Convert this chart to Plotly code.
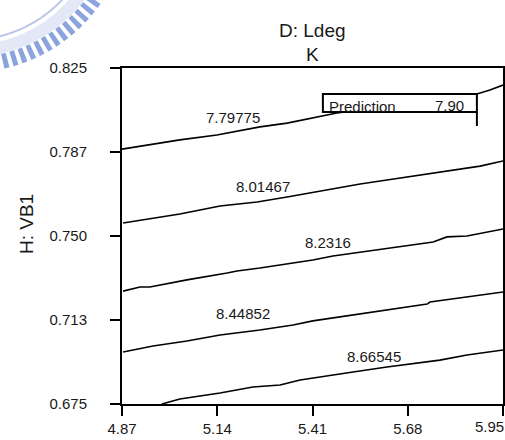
import numpy as np
import plotly.graph_objects as go

# Contour levels of K over the D: Ldeg / H: VB1 plane
levels = ["7.79775", "8.01467", "8.2316", "8.44852", "8.66545"]

ldeg_1 = [4.870, 4.958, 5.034, 5.139, 5.261, 5.338, 5.411, 5.479, 5.658, 5.876, 5.913, 5.950]
vb1_1 = [0.7888, 0.7911, 0.7929, 0.7951, 0.7987, 0.8004, 0.8027, 0.8049, 0.8085, 0.8134, 0.8152, 0.8174]

ldeg_2 = [4.873, 4.958, 5.034, 5.148, 5.253, 5.338, 5.431, 5.545, 5.621, 5.715, 5.808, 5.885, 5.950]
vb1_2 = [0.7558, 0.7580, 0.7598, 0.7634, 0.7652, 0.7674, 0.7701, 0.7732, 0.7750, 0.7772, 0.7795, 0.7812, 0.7835]

ldeg_3 = [4.873, 4.921, 4.949, 5.054, 5.168, 5.196, 5.261, 5.338, 5.411, 5.468, 5.525, 5.621, 5.752, 5.791, 5.848, 5.950]
vb1_3 = [0.7254, 0.7272, 0.7272, 0.7304, 0.7335, 0.7344, 0.7357, 0.7375, 0.7393, 0.7411, 0.7424, 0.7446, 0.7473, 0.7496, 0.7500, 0.7531]

ldeg_4 = [4.873, 4.958, 5.054, 5.111, 5.148, 5.261, 5.355, 5.411, 5.525, 5.621, 5.735, 5.743, 5.808, 5.950]
vb1_4 = [0.6982, 0.7009, 0.7031, 0.7049, 0.7058, 0.7080, 0.7103, 0.7121, 0.7147, 0.7170, 0.7196, 0.7205, 0.7219, 0.7250]

ldeg_5 = [4.983, 5.034, 5.148, 5.241, 5.318, 5.375, 5.525, 5.621, 5.771, 5.848, 5.950]
vb1_5 = [0.6750, 0.6772, 0.6799, 0.6826, 0.6835, 0.6857, 0.6893, 0.6915, 0.6946, 0.6969, 0.6991]

# Where each level label sits
label_ldeg = [5.185, 5.270, 5.454, 5.213, 5.584]
label_vb1 = [0.8031, 0.7723, 0.7469, 0.7156, 0.6960]

# Prediction flag
pred_ldeg = 5.876
pred_vb1 = 0.7991
pred_value = 7.90

# Axis ticks
x_ticks = [4.87, 5.14, 5.41, 5.68, 5.95]
x_ticktext = ["4.87", "5.14", "5.41", "5.68", ""]
x_last_label = "5.95"
y_ticks = [0.675, 0.7125, 0.75, 0.7875, 0.825]
y_ticktext = ["0.675", "0.713", "0.750", "0.787", "0.825"]

FONT = "Liberation Sans, Arial, sans-serif"
INK = "#1a1a1a"

W, H = 505, 440
ML, MR, MT, MB = 122, 2, 68, 36
PW, PH = W - ML - MR, H - MT - MB

fig = go.Figure()

for xs, ys in [(ldeg_1, vb1_1), (ldeg_2, vb1_2), (ldeg_3, vb1_3), (ldeg_4, vb1_4), (ldeg_5, vb1_5)]:
    fig.add_trace(go.Scatter(
        x=xs, y=ys, mode="lines",
        line=dict(color="black", width=1.6),
        hoverinfo="skip", showlegend=False,
    ))

annotations = []
for lab, lx, ly in zip(levels, label_ldeg, label_vb1):
    annotations.append(dict(
        x=lx, y=ly, text=lab, showarrow=False,
        font=dict(family=FONT, size=15, color=INK),
        xanchor="center", yanchor="middle",
    ))

# Flag box with the predicted value
shapes = [
    dict(type="rect", layer="above",
         xref="x", yref="y", xsizemode="pixel", ysizemode="pixel",
         xanchor=pred_ldeg, yanchor=pred_vb1,
         x0=-154, x1=0, y0=14, y1=32,
         line=dict(color="black", width=2), fillcolor="white"),
    dict(type="line", layer="above",
         xref="x", yref="y", xsizemode="pixel", ysizemode="pixel",
         xanchor=pred_ldeg, yanchor=pred_vb1,
         x0=0, x1=0, y0=0, y1=14,
         line=dict(color="black", width=2)),
]
annotations.append(dict(
    x=pred_ldeg, y=pred_vb1, text="Prediction", showarrow=False,
    xanchor="left", yanchor="bottom", xshift=-150, yshift=9,
    font=dict(family=FONT, size=15, color=INK),
))
annotations.append(dict(
    x=pred_ldeg, y=pred_vb1, text=f"{pred_value:.2f}", showarrow=False,
    xanchor="right", yanchor="bottom", xshift=-11, yshift=10,
    font=dict(family=FONT, size=15, color=INK),
))

# Rightmost x tick label, pulled in so it stays on the page
annotations.append(dict(
    x=1, y=0, xref="paper", yref="paper", text=x_last_label, showarrow=False,
    xanchor="right", yanchor="top", xshift=3, yshift=-12,
    font=dict(family=FONT, size=15, color=INK),
))

# Titles
annotations.append(dict(
    x=0.5, y=1, xref="paper", yref="paper", text="D: Ldeg", showarrow=False,
    xanchor="center", yanchor="middle", yshift=38,
    font=dict(family=FONT, size=19, color=INK),
))
annotations.append(dict(
    x=0.5, y=1, xref="paper", yref="paper", text="K", showarrow=False,
    xanchor="center", yanchor="middle", yshift=14,
    font=dict(family=FONT, size=19, color=INK),
))
annotations.append(dict(
    x=0, y=0.5, xref="paper", yref="paper", text="H: VB1", showarrow=False,
    textangle=-90, xanchor="center", yanchor="middle", xshift=-96, yshift=12,
    font=dict(family=FONT, size=19, color=INK),
))


# Faint emblem in the upper-left corner: toothed ring plus inner rings
def arc_path(cx, cy, r, a0, a1, n=40):
    """Arc given in page pixels, returned as a path in paper coordinates."""
    t = np.radians(np.linspace(a0, a1, n))
    px = cx + r * np.cos(t)
    py = cy - r * np.sin(t)
    fx = (px - ML) / PW
    fy = (H - MB - py) / PH
    return "M " + " L ".join(f"{a:.4f},{b:.4f}" for a, b in zip(fx, fy))


emb_cx, emb_cy = -31, -88
for r, width, color, dash, op, a0, a1 in [
    (139, 12, "#dfe6f6", "solid", 0.9, 272, 332),
    (153, 15, "#6f8ed6", "5px,4px", 0.8, 276, 330),
    (128, 2, "#b3c2e6", "solid", 0.9, 272, 335),
]:
    shapes.append(dict(
        type="path", layer="below", xref="paper", yref="paper",
        path=arc_path(emb_cx, emb_cy, r, a0, a1),
        line=dict(color=color, width=width, dash=dash), opacity=op,
    ))

axis_common = dict(
    showgrid=False, zeroline=False, showline=True, mirror=True,
    linecolor="black", linewidth=2,
    ticks="outside", ticklen=10, tickwidth=2, tickcolor="black",
    tickfont=dict(family=FONT, size=15, color=INK),
    automargin=False,
)

fig.update_layout(
    width=W, height=H,
    margin=dict(l=ML, r=MR, t=MT, b=MB),
    paper_bgcolor="white", plot_bgcolor="white",
    xaxis=dict(range=[4.87, 5.95], tickvals=x_ticks, ticktext=x_ticktext, **axis_common),
    yaxis=dict(range=[0.675, 0.825], tickvals=y_ticks, ticktext=y_ticktext,
               ticklabelstandoff=20, **axis_common),
    shapes=shapes,
    annotations=annotations,
    showlegend=False,
)

fig.write_html("out.html")
